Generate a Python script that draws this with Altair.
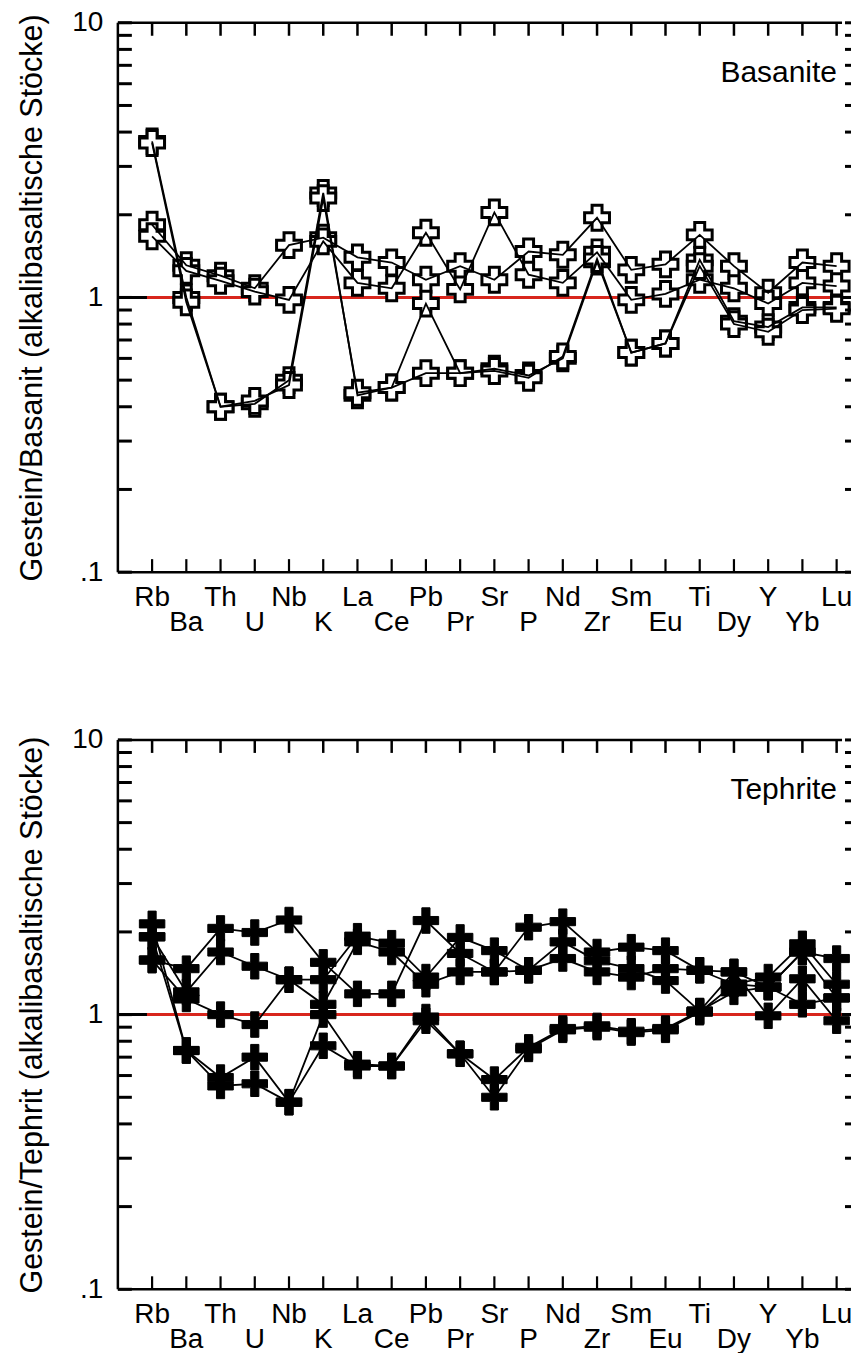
import altair as alt
import pandas as pd

FONT = "Liberation Sans"

elements = ["Rb", "Ba", "Th", "U", "Nb", "K", "La", "Ce", "Pb", "Pr", "Sr",
            "P", "Nd", "Zr", "Sm", "Eu", "Ti", "Dy", "Y", "Yb", "Lu"]

# Basanite panel
bas_1 = [1.84, 1.31, 1.20, 1.08, 1.55, 1.65, 1.40, 1.34, 1.16, 1.30, 1.16,
         1.47, 1.43, 1.95, 1.26, 1.32, 1.69, 1.30, 1.04, 1.34, 1.30]
bas_2 = [1.67, 1.25, 1.15, 1.05, 0.98, 1.60, 1.13, 1.08, 1.72, 1.07, 2.04,
         1.21, 1.13, 1.46, 0.98, 1.03, 1.16, 1.08, 0.95, 1.13, 1.10]
bas_3 = [3.70, 1.00, 0.40, 0.41, 0.50, 2.40, 0.44, 0.47, 0.95, 0.53, 0.55,
         0.52, 0.60, 1.35, 0.63, 0.68, 1.37, 0.82, 0.78, 0.92, 0.92]
bas_4 = [3.65, 0.96, 0.40, 0.42, 0.48, 2.30, 0.45, 0.47, 0.53, 0.53, 0.54,
         0.51, 0.61, 1.38, 0.63, 0.68, 1.30, 0.80, 0.75, 0.90, 0.91]

# Tephrite panel
teph_1 = [2.14, 0.74, 0.59, 0.70, 0.48, 0.77, 0.65, 0.65, 0.98, 0.72, 0.58,
          0.76, 0.89, 0.91, 0.87, 0.89, 1.03, 1.21, 1.26, 1.69, 1.15]
teph_2 = [1.92, 0.74, 0.55, 0.56, 0.48, 1.00, 0.66, 0.65, 0.95, 0.72, 0.50,
          0.75, 0.88, 0.90, 0.86, 0.88, 1.02, 1.29, 1.37, 1.81, 1.29]
teph_3 = [1.58, 1.47, 2.06, 1.99, 2.21, 1.55, 1.19, 1.19, 2.20, 1.67, 1.43,
          2.08, 2.18, 1.69, 1.76, 1.71, 1.45, 1.43, 1.26, 1.69, 1.60]
teph_4 = [1.92, 1.21, 1.69, 1.50, 1.34, 1.34, 1.93, 1.82, 1.37, 1.91, 1.71,
          1.45, 1.84, 1.57, 1.47, 1.33, 1.03, 1.43, 0.99, 1.35, 0.95]
teph_5 = [1.58, 1.14, 1.00, 0.92, 1.34, 1.09, 1.84, 1.69, 1.29, 1.43, 1.43,
          1.45, 1.60, 1.43, 1.37, 1.47, 1.45, 1.29, 1.26, 1.09, 1.15]

y_ticks = [0.1, 0.2, 0.3, 0.4, 0.5, 0.6, 0.7, 0.8, 0.9,
           1, 2, 3, 4, 5, 6, 7, 8, 9, 10]
y_labels = [0.1, 1, 10]

titles = ["Basanite", "Tephrite"]
y_titles = ["Gestein/Basanit (alkalibasaltische Stöcke)",
            "Gestein/Tephrit (alkalibasaltische Stöcke)"]


def long_df(series):
    rows = []
    for name, vals in series.items():
        for i, (el, v) in enumerate(zip(elements, vals)):
            rows.append({"series": name, "element": el, "idx": i, "value": v})
    return pd.DataFrame(rows)


bas_df = long_df({"s1": bas_1, "s2": bas_2, "s3": bas_3, "s4": bas_4})
teph_df = long_df({"t1": teph_1, "t2": teph_2, "t3": teph_3,
                   "t4": teph_4, "t5": teph_5})

elem_df = pd.DataFrame({"element": elements, "idx": list(range(len(elements)))})
even_df = elem_df[elem_df.idx % 2 == 0]
odd_df = elem_df[elem_df.idx % 2 == 1]
ytick_df = pd.DataFrame({"value": y_ticks})
one_df = pd.DataFrame({"value": [1.0]})

W, H = 734, 550
XMIN, XMAX = -1.0, 20.42

xs = alt.Scale(domain=[XMIN, XMAX], nice=False, zero=False)
ys = alt.Scale(type="log", domain=[0.1, 10], nice=False)

FILLED_CROSS = ("M-0.32,-1L0.32,-1L0.32,-0.32L1,-0.32L1,0.32L0.32,0.32L0.32,1"
                "L-0.32,1L-0.32,0.32L-1,0.32L-1,-0.32L-0.32,-0.32Z")


def panel(df, label, ytitle, filled):
    x = alt.X("idx:Q", scale=xs, axis=None)
    y = alt.Y("value:Q", scale=ys, title=ytitle,
              axis=alt.Axis(values=y_labels,
                            labelExpr="datum.value < 0.5 ? '.1' : (datum.value < 5 ? '1' : '10')",
                            ticks=False, domain=False, grid=False,
                            labelFont=FONT, labelFontSize=28, labelColor="black",
                            labelPadding=15,
                            titleFont=FONT, titleFontSize=30.5, titleFontWeight="normal",
                            titleColor="black", titlePadding=24))

    lines = alt.Chart(df).mark_line(color="black", strokeWidth=1.8).encode(
        x=x, y=y, detail="series:N")
    if filled:
        points = alt.Chart(df).mark_point(
            shape=FILLED_CROSS, size=650, filled=True, fill="black",
            stroke="black", strokeWidth=1, opacity=1).encode(x=x, y=y)
        marks = [lines, points]
    else:
        points = alt.Chart(df).mark_point(
            shape="cross", size=620, filled=True, fill="white",
            stroke="black", strokeWidth=3, opacity=1).encode(x=x, y=y)
        marks = [points, lines]

    ref_black = alt.Chart(one_df).mark_rule(color="black", strokeWidth=3).encode(
        y=y, x=alt.value(0), x2=alt.value(W))
    ref_red = alt.Chart(one_df).mark_rule(color="#d8261d", strokeWidth=3).encode(
        y=y, x=alt.X(datum=-0.15, scale=xs, axis=None), x2=alt.X2(datum=20.15))

    ytick_l = alt.Chart(ytick_df).mark_rule(color="black", strokeWidth=3).encode(
        y=y, x=alt.value(0), x2=alt.value(14))
    ytick_r = alt.Chart(ytick_df).mark_rule(color="black", strokeWidth=3).encode(
        y=y, x=alt.value(W - 6), x2=alt.value(W))
    xtick_b = alt.Chart(elem_df).mark_rule(color="black", strokeWidth=2.2).encode(
        x=x, y=alt.value(H), y2=alt.value(H - 13))
    xtick_t = alt.Chart(elem_df).mark_rule(color="black", strokeWidth=2.5).encode(
        x=x, y=alt.value(0), y2=alt.value(13))

    frame_l = alt.Chart(one_df).mark_rule(color="black", strokeWidth=2.5).encode(
        x=alt.value(0), y=alt.value(0), y2=alt.value(H))
    frame_t = alt.Chart(one_df).mark_rule(color="black", strokeWidth=2.5).encode(
        x=alt.value(0), x2=alt.value(725), y=alt.value(0))
    frame_b = alt.Chart(one_df).mark_rule(color="black", strokeWidth=2.5).encode(
        x=alt.value(0), x2=alt.value(W), y=alt.value(H))

    lab_even = alt.Chart(even_df).mark_text(
        font=FONT, fontSize=28, color="black", align="center",
        baseline="alphabetic").encode(x=x, y=alt.value(H + 34), text="element:N")
    lab_odd = alt.Chart(odd_df).mark_text(
        font=FONT, fontSize=28, color="black", align="center",
        baseline="alphabetic").encode(x=x, y=alt.value(H + 59), text="element:N")

    name = alt.Chart(pd.DataFrame({"t": [label]})).mark_text(
        font=FONT, fontSize=30, color="black", align="right",
        baseline="alphabetic").encode(x=alt.value(720), y=alt.value(59), text="t:N")

    return alt.layer(ref_black, ref_red, *marks, ytick_l, ytick_r, xtick_b,
                     xtick_t, frame_l, frame_t, frame_b, lab_even, lab_odd,
                     name).properties(width=W, height=H)


top = panel(bas_df, titles[0], y_titles[0], filled=False)
bottom = panel(teph_df, titles[1], y_titles[1], filled=True)

chart = alt.vconcat(top, bottom, spacing=87).configure_view(
    stroke="transparent").properties(
    padding={"left": 9, "top": -1, "right": 0, "bottom": 0})

chart.save("out.html", embed_options={"renderer": "svg", "actions": False})
